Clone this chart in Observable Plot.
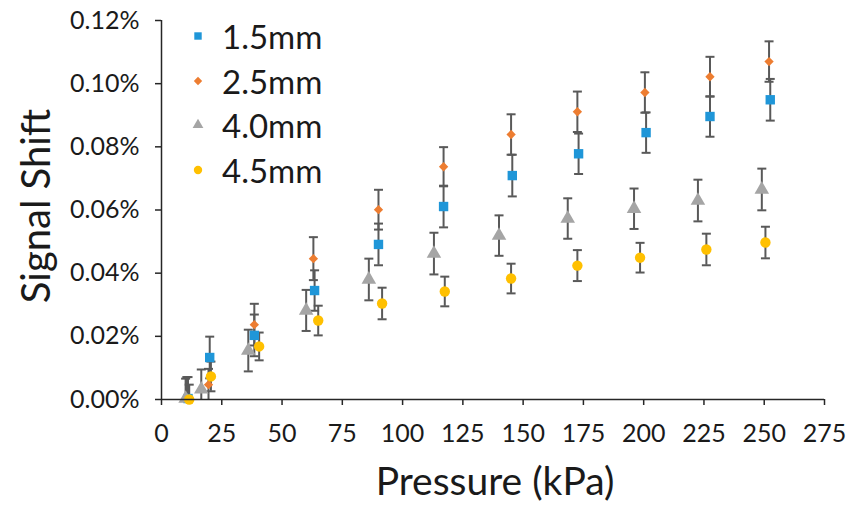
<!DOCTYPE html>
<html>
<head>
<meta charset="utf-8">
<script src="https://cdn.jsdelivr.net/npm/d3@7"></script>
<script src="https://cdn.jsdelivr.net/npm/@observablehq/plot@0.6"></script>
<style>
  body { margin: 0; background: #fff; }
  #wrap { position: relative; width: 848px; height: 505px; overflow: hidden; font-family: Lato, "Open Sans", sans-serif; color: #1a1a1a; }
  #ytitle { position: absolute; left: 35px; top: 206px; transform: translate(-50%, -50%) rotate(-90deg); font-size: 40px; line-height: 1; white-space: nowrap; }
  #xtitle { position: absolute; left: 495px; top: 480px; transform: translate(-50%, -50%); font-size: 39px; line-height: 1; white-space: nowrap; }
  #legend { position: absolute; left: 189px; top: 14px; font-size: 33px; line-height: 44.5px; }
  #legend .row { display: flex; align-items: center; height: 44.5px; }
  #legend svg { width: 18px; height: 18px; margin-right: 15px; }
</style>
</head>
<body>
<div id="wrap">
  <div id="chart"></div>
  <div id="ytitle">Signal Shift</div>
  <div id="xtitle">Pressure (kPa)</div>
  <div id="legend"></div>
</div>
<script>
// Series names and styles
const seriesNames = ["1.5mm", "2.5mm", "4.0mm", "4.5mm"];
const seriesColors = ["#1f96d8", "#ed7d31", "#a5a5a5", "#ffc000"];
const seriesSymbols = ["square", "diamond2", "triangle", "circle"];

// Pressure (kPa) for each series
const pressure15 = [11, 20, 38.5, 63.5, 90, 117, 145.5, 173, 201, 227.5, 252.5];
const pressure25 = [10.5, 19.5, 38.5, 63, 90, 117, 145, 172.5, 200.5, 227.5, 252];
const pressure40 = [10, 16.5, 36, 60, 86, 113, 140, 168.5, 196, 222.5, 249];
const pressure45 = [11.5, 20.5, 40.5, 65, 91.5, 117.5, 145, 172.5, 198.5, 226, 250.5];

// Signal shift (%) for each series
const signal15 = [0.0003, 0.0133, 0.0203, 0.0345, 0.0491, 0.0611, 0.0709, 0.0778, 0.0845, 0.0896, 0.0949];
const signal25 = [0.0003, 0.0047, 0.0237, 0.0446, 0.0601, 0.0737, 0.0839, 0.0911, 0.0972, 0.1022, 0.1070];
const signal40 = [0.0003, 0.0032, 0.0155, 0.0282, 0.0380, 0.0462, 0.0519, 0.0573, 0.0604, 0.0630, 0.0665];
const signal45 = [0.0000, 0.0073, 0.0168, 0.0250, 0.0304, 0.0342, 0.0383, 0.0424, 0.0449, 0.0475, 0.0497];

// Error (± %) for each series
const err15 = [0.0068, 0.0066, 0.0066, 0.0064, 0.0066, 0.0066, 0.0066, 0.0064, 0.0064, 0.0064, 0.0066];
const err25 = [0.0068, 0.0050, 0.0066, 0.0068, 0.0063, 0.0062, 0.0064, 0.0064, 0.0064, 0.0063, 0.0064];
const err40 = [0.0063, 0.0063, 0.0066, 0.0065, 0.0066, 0.0066, 0.0064, 0.0064, 0.0064, 0.0066, 0.0066];
const err45 = [0.0047, 0.0047, 0.0044, 0.0047, 0.0050, 0.0047, 0.0047, 0.0049, 0.0047, 0.0050, 0.0050];

const xTicks = [0, 25, 50, 75, 100, 125, 150, 175, 200, 225, 250, 275];
const yTicks = [0, 0.02, 0.04, 0.06, 0.08, 0.10, 0.12];

const pressures = [pressure15, pressure25, pressure40, pressure45];
const signals = [signal15, signal25, signal40, signal45];
const errs = [err15, err25, err40, err45];

const tables = seriesNames.map((name, s) =>
  pressures[s].map((p, i) => ({series: name, x: p, y: signals[s][i], lo: signals[s][i] - errs[s][i], hi: signals[s][i] + errs[s][i]}))
);

const capSymbol = {
  draw(ctx, size) {
    const w = Math.sqrt(size / Math.PI);
    ctx.moveTo(-w, 0);
    ctx.lineTo(w, 0);
  }
};

const barColor = "#595959";
const marks = [];
tables.forEach((t, s) => {
  marks.push(
    Plot.ruleX(t, {x: "x", y1: "lo", y2: "hi", stroke: barColor, strokeWidth: 2, clip: true}),
    Plot.dot(t, {x: "x", y: "hi", symbol: capSymbol, r: 4.5, stroke: barColor, strokeWidth: 2, fill: "none", clip: true}),
    Plot.dot(t, {x: "x", y: "lo", symbol: capSymbol, r: 4.5, stroke: barColor, strokeWidth: 2, fill: "none", clip: true})
  );
});
const markerR = [5.3, 4.2, 5.4, 5.2];
tables.forEach((t, s) => {
  marks.push(Plot.dot(t, {x: "x", y: "y", symbol: seriesSymbols[s], r: markerR[s], fill: seriesColors[s], stroke: "none"}));
});

const axisColor = "#262626";
marks.push(
  Plot.ruleX([0], {stroke: axisColor, strokeWidth: 1.5}),
  Plot.ruleY([0], {stroke: axisColor, strokeWidth: 1.5}),
  Plot.axisX({ticks: xTicks, tickSize: 6, tickPadding: 19, stroke: axisColor, strokeWidth: 1.5, label: null, fontSize: 25, fill: "#1a1a1a"}),
  Plot.axisY({ticks: yTicks, tickSize: 6, tickPadding: 16, stroke: axisColor, strokeWidth: 1.5, label: null, fontSize: 25, fill: "#1a1a1a", tickFormat: d => d.toFixed(2) + "%"})
);

const chart = Plot.plot({
  width: 848,
  height: 505,
  marginLeft: 161,
  marginRight: 24,
  marginTop: 20,
  marginBottom: 106,
  style: {fontFamily: "Lato, 'Open Sans', sans-serif", background: "#fff", overflow: "visible"},
  x: {domain: [0, 275]},
  y: {domain: [0, 0.12]},
  marks
});
document.getElementById("chart").appendChild(chart);

// Legend
const legend = document.getElementById("legend");
seriesNames.forEach((name, s) => {
  const row = document.createElement("div");
  row.className = "row";
  const sym = d3.symbol().type({square: d3.symbolSquare, diamond2: d3.symbolDiamond2, triangle: d3.symbolTriangle, circle: d3.symbolCircle}[seriesSymbols[s]]).size([55, 45, 50, 55][s]);
  row.innerHTML = `<svg viewBox="-9 -9 18 18"><path d="${sym()}" fill="${seriesColors[s]}"/></svg><span>${name}</span>`;
  legend.appendChild(row);
});
</script>
</body>
</html>
